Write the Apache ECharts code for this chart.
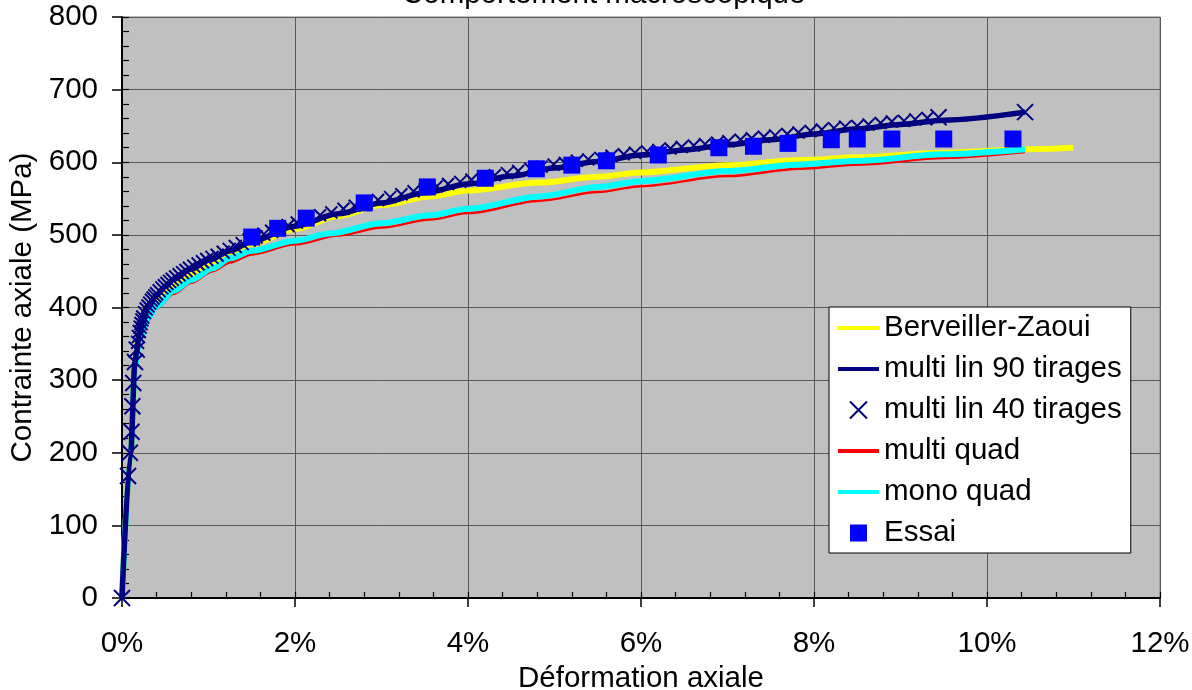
<!DOCTYPE html>
<html>
<head>
<meta charset="utf-8">
<script src="https://cdn.jsdelivr.net/npm/echarts@6/dist/echarts.min.js"></script>
<style>
html,body{margin:0;padding:0;background:#fff;}
#chart{width:1192px;height:690px;}
</style>
</head>
<body>
<div id="chart"></div>
<script>
// ---- Data (strain in %, stress in MPa) ----
const titleText = "Comportement macroscopique";
const xName = "Déformation axiale";
const yName = "Contrainte axiale (MPa)";
const seriesNames = ["Berveiller-Zaoui", "multi lin 90 tirages", "multi lin 40 tirages", "multi quad", "mono quad", "Essai"];

const strainBZ = [0, 0.1, 0.15, 0.2, 0.3, 0.5, 0.8, 1.0, 1.5, 2.0, 2.5, 3.0, 3.56, 4.0, 4.83, 5.5, 6.0, 7.0, 7.84, 8.53, 9.5, 10.44, 11.0];
const stressBZ = [0, 200, 325, 365, 395, 424, 446, 460, 487, 508, 526, 541, 553, 561, 572, 580, 586, 596, 603, 607, 613, 618, 620];

const strain90 = [0, 0.1, 0.15, 0.17, 0.2, 0.25, 0.3, 0.4, 0.5, 0.6, 0.8, 1.0, 1.25, 1.5, 2.0, 2.5, 3.0, 3.5, 4.0, 4.5, 5.0, 5.5, 6.0, 6.5, 7.0, 7.5, 8.0, 8.5, 9.0, 9.5, 10.44];
const stress90 = [0, 200, 325, 340, 365, 388, 400, 417, 429, 439, 453, 465, 478, 491, 512, 529, 544, 558, 570, 581, 592, 601, 610, 617, 624, 631, 639, 646, 652, 658, 669];

const strain40 = [0, 0.07, 0.09, 0.11, 0.12, 0.13, 0.15, 0.17, 0.18, 0.19, 0.20, 0.21, 0.22, 0.23, 0.24, 0.26, 0.28, 0.30, 0.32, 0.34, 0.36, 0.38, 0.40, 0.43, 0.46, 0.49, 0.52, 0.55, 0.58, 0.62, 0.66, 0.70, 0.74, 0.78, 0.83, 0.88, 0.93, 0.98, 1.04, 1.10, 1.17, 1.24, 1.31, 1.39, 1.47, 1.55, 1.64, 1.73, 1.82, 1.92,
  2.02, 2.15, 2.29, 2.42, 2.56, 2.69, 2.83, 2.96, 3.10, 3.23, 3.37, 3.50, 3.64, 3.77, 3.91, 4.04, 4.18, 4.31, 4.45, 4.58, 4.72, 4.85, 4.99, 5.12, 5.26, 5.39, 5.53, 5.66, 5.80, 5.93, 6.07, 6.20, 6.34, 6.47, 6.61, 6.74, 6.88, 7.01, 7.15, 7.28, 7.42, 7.55, 7.69, 7.82, 7.96, 8.09, 8.23, 8.36, 8.50, 8.63, 8.77, 8.90, 9.04, 9.17, 9.31, 9.44, 10.44];
const stress40 = [0, 168, 200, 229, 264, 296, 325, 342, 352, 360, 367, 373, 378, 383, 387, 393, 398, 402, 406, 410, 413, 416, 419, 423, 427, 430, 433, 436, 439, 442, 445, 448, 451, 454, 457, 460, 463, 466, 469, 472, 476, 480, 484, 488, 493, 497, 501, 505, 509, 513,
  517, 522, 527, 531, 536, 540, 544, 548, 552, 556, 560, 563, 567, 570, 573, 576, 579, 582, 585, 588, 591, 594, 597, 599, 602, 604, 606, 609, 611, 613, 615, 617, 619, 621, 623, 625, 627, 629, 631, 633, 635, 637, 639, 641, 643, 645, 647, 649, 650, 652, 654, 656, 657, 659, 661, 662, 669];

const strainMQ = [0, 0.1, 0.15, 0.2, 0.3, 0.4, 0.6, 0.8, 1.05, 1.25, 1.5, 2.0, 2.5, 3.0, 3.56, 4.0, 4.83, 5.5, 6.0, 7.0, 7.84, 8.53, 9.5, 10.44];
const stressMQ = [0, 200, 320, 352, 382, 399, 419, 434, 450, 462, 473, 487, 499, 510, 521, 530, 547, 559, 567, 581, 591, 597, 606, 614];

const strainMono = [0, 0.1, 0.15, 0.2, 0.3, 0.4, 0.6, 0.8, 1.05, 1.25, 1.5, 2.0, 2.4, 3.0, 3.56, 4.0, 4.83, 5.5, 6.0, 7.0, 7.84, 8.53, 9.5, 10.44];
const stressMono = [0, 200, 320, 355, 385, 402, 423, 438, 454, 468, 478, 492, 502, 516, 527, 536, 553, 566, 574, 588, 597, 602, 611, 618];

const strainEssai = [1.5, 1.8, 2.13, 2.8, 3.53, 4.2, 4.79, 5.2, 5.6, 6.2, 6.9, 7.3, 7.7, 8.2, 8.5, 8.9, 9.5, 10.3];
const stressEssai = [497, 509, 523, 544, 566, 578, 591, 596, 602, 610, 620, 622, 626, 631, 632, 632, 632, 632];

const xTicks = [0, 2, 4, 6, 8, 10, 12];
const yTicks = [0, 100, 200, 300, 400, 500, 600, 700, 800];

// ---- Build ----
const zip = (a, b) => a.map((v, i) => [v, b[i]]);
const FONT = "Liberation Sans, Arial, sans-serif";
const crossPath = 'path://M0,0L10,10M10,0L0,10';
const barPath = 'path://M0,0H41V4H0Z';
const sqPath = 'path://M0,0H10V10H0Z';

const chart = echarts.init(document.getElementById('chart'), null, {renderer: 'canvas'});
const lineSeries = (name, xs, ys, color, width, z) => ({
  name, type: 'line', data: zip(xs, ys), showSymbol: false, symbol: 'none',
  smooth: 0.3, smoothMonotone: 'x', color,
  lineStyle: {color, width, cap: 'butt', join: 'round'}, itemStyle: {color}, z,
  emphasis: {disabled: true}
});
const option = {
  animation: false,
  backgroundColor: '#ffffff',
  title: {
    text: titleText,
    left: 402, top: -20,
    padding: 0,
    textStyle: {fontFamily: FONT, fontSize: 29.5, fontWeight: 'normal', color: '#000'}
  },
  grid: {
    left: 122, right: 32, top: 17, bottom: 92,
    outerBoundsMode: 'none', containLabel: false,
    show: true, backgroundColor: '#C0C0C0', borderColor: '#808080', borderWidth: 1
  },
  legend: {
    orient: 'vertical',
    left: 829, top: 307,
    padding: [6, 9, 5, 9],
    itemGap: 11,
    itemWidth: 41, itemHeight: 17,
    itemTextGap: 10,
    backgroundColor: '#ffffff', borderColor: '#000', borderWidth: 1, borderRadius: 0,
    textStyle: {fontFamily: FONT, fontSize: 29.5, color: '#000'},
    data: [
      {name: seriesNames[0], icon: barPath},
      {name: seriesNames[1], icon: barPath},
      {name: seriesNames[2], icon: crossPath},
      {name: seriesNames[3], icon: barPath},
      {name: seriesNames[4], icon: barPath},
      {name: seriesNames[5], icon: sqPath}
    ]
  },
  xAxis: [{
    type: 'value', min: 0, max: 12, interval: 2,
    name: xName, nameLocation: 'middle', nameGap: 64,
    nameTextStyle: {fontFamily: FONT, fontSize: 29.5, color: '#000'},
    axisLine: {show: true, onZero: false, lineStyle: {color: '#000', width: 2}},
    axisTick: {show: true, length: 9, lineStyle: {color: '#000', width: 1.5}},
    axisLabel: {formatter: v => v + '%', margin: 31, fontFamily: FONT, fontSize: 29.5, color: '#000'},
    splitLine: {show: true, lineStyle: {color: '#5a5a5a', width: 1}}
  }, {
    type: 'value', min: 0, max: 12, interval: 0.4, position: 'bottom',
    axisLine: {show: false}, axisLabel: {show: false}, splitLine: {show: false},
    axisTick: {show: true, inside: true, length: 6, lineStyle: {color: '#000', width: 1.2}}
  }],
  yAxis: [{
    type: 'value', min: 0, max: 800, interval: 100,
    name: yName, nameLocation: 'middle', nameGap: 68,
    nameTextStyle: {fontFamily: FONT, fontSize: 29.5, color: '#000'},
    axisLine: {show: true, onZero: false, lineStyle: {color: '#000', width: 2}},
    axisTick: {show: true, length: 10, lineStyle: {color: '#000', width: 1.5}},
    axisLabel: {margin: 24, fontFamily: FONT, fontSize: 29.5, color: '#000'},
    splitLine: {show: true, lineStyle: {color: '#5a5a5a', width: 1}}
  }, {
    type: 'value', min: 0, max: 800, interval: 20, position: 'left',
    axisLine: {show: false}, axisLabel: {show: false}, splitLine: {show: false},
    axisTick: {show: true, inside: true, length: 7, lineStyle: {color: '#000', width: 1.2}}
  }],
  series: [
    lineSeries(seriesNames[0], strainBZ, stressBZ, '#FFFF00', 6, 2),
    lineSeries(seriesNames[3], strainMQ, stressMQ, '#FF0000', 2.5, 3),
    lineSeries(seriesNames[4], strainMono, stressMono, '#00FFFF', 6, 4),
    lineSeries(seriesNames[1], strain90, stress90, '#000080', 5.5, 5),
    {name: seriesNames[2], type: 'scatter', data: zip(strain40, stress40), symbol: crossPath,
     symbolSize: (val, p) => (p.dataIndex < 8 || p.dataIndex >= strain40.length - 2) ? 16 : (p.dataIndex < 50 ? 13 : 12),
     itemStyle: {color: 'rgba(0,0,0,0)', borderColor: '#000080', borderWidth: 2, opacity: 1}, z: 6,
     emphasis: {disabled: true}},
    {name: seriesNames[5], type: 'scatter', data: zip(strainEssai, stressEssai), symbol: 'rect', symbolSize: 17,
     itemStyle: {color: '#0000FF', opacity: 1}, z: 7, emphasis: {disabled: true}}
  ]
};
chart.setOption(option);
</script>
</body>
</html>
